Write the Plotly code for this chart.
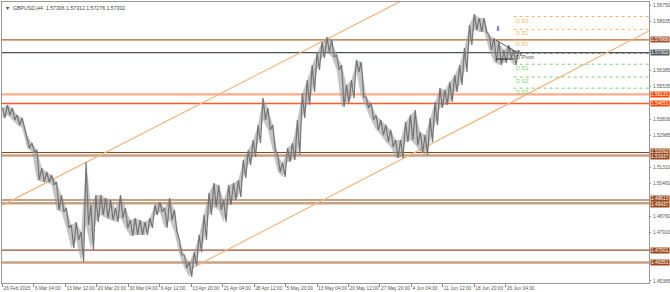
import plotly.graph_objects as go

# ---------------- data ----------------
bar_step = 5  # one sample every 5 H4 bars
hi = [1.54415, 1.54572, 1.54415, 1.54050, 1.53893, 1.53006, 1.52588, 1.52223, 1.51283, 1.51074,
      1.50918, 1.50552, 1.49874, 1.49195, 1.48308, 1.48464, 1.47942, 1.51596, 1.49352, 1.49874,
      1.49874, 1.49717, 1.49613, 1.49195, 1.49874, 1.49195, 1.48569, 1.48673, 1.48569, 1.48464,
      1.48673, 1.49352, 1.49508, 1.49195, 1.49717, 1.49091, 1.47525, 1.46742, 1.46376, 1.46898,
      1.47786, 1.48830, 1.49978, 1.50500, 1.50396, 1.49613, 1.50396, 1.50500, 1.50657, 1.51701,
      1.52223, 1.52745, 1.53528, 1.54937, 1.54415, 1.53528, 1.51962, 1.51544, 1.52327, 1.52588,
      1.53789, 1.55198, 1.55877, 1.56660, 1.57286, 1.57860, 1.58121, 1.57965, 1.57182, 1.56660,
      1.55616, 1.55877, 1.56921, 1.56816, 1.54989, 1.54676, 1.54050, 1.53789, 1.53528, 1.53267,
      1.52745, 1.52745, 1.53684, 1.54050, 1.54311, 1.53162, 1.53006, 1.53893, 1.54728, 1.55459,
      1.55355, 1.55772, 1.56138, 1.56660, 1.57547, 1.58748, 1.59322, 1.59113, 1.59113, 1.58226,
      1.58069, 1.57860, 1.57443, 1.57704, 1.57443, 1.57443]
lo = [1.53893, 1.54050, 1.53789, 1.53528, 1.53371, 1.52327, 1.52118, 1.50657, 1.50552, 1.50552,
      1.50396, 1.49091, 1.48986, 1.48151, 1.47107, 1.47525, 1.46376, 1.48308, 1.47003, 1.48464,
      1.48830, 1.48673, 1.48569, 1.48464, 1.48673, 1.48151, 1.47734, 1.47786, 1.47786, 1.47786,
      1.48151, 1.48830, 1.48986, 1.48151, 1.48569, 1.47942, 1.46742, 1.46063, 1.45593, 1.46168,
      1.46898, 1.47525, 1.48830, 1.49247, 1.49091, 1.48464, 1.49352, 1.49613, 1.49769, 1.50761,
      1.51440, 1.51857, 1.52588, 1.53789, 1.53267, 1.52223, 1.51074, 1.50813, 1.51596, 1.51701,
      1.51962, 1.53893, 1.54572, 1.55250, 1.56399, 1.57025, 1.57338, 1.57077, 1.56399, 1.54467,
      1.54676, 1.54937, 1.56294, 1.54989, 1.54415, 1.53789, 1.53267, 1.53006, 1.52640, 1.52379,
      1.51805, 1.51805, 1.52640, 1.52745, 1.52484, 1.52118, 1.51962, 1.52640, 1.53528, 1.54415,
      1.54572, 1.54728, 1.55250, 1.55616, 1.56294, 1.57704, 1.58487, 1.58382, 1.58382, 1.57443,
      1.56816, 1.56660, 1.56764, 1.57025, 1.56660, 1.57130]

x_labels = ["26 Feb 2015", "6 Mar 04:00", "13 Mar 12:00", "20 Mar 20:00", "30 Mar 04:00",
            "6 Apr 12:00", "13 Apr 20:00", "21 Apr 04:00", "28 Apr 12:00", "5 May 20:00",
            "13 May 04:00", "20 May 12:00", "27 May 20:00", "4 Jun 04:00", "11 Jun 12:00",
            "18 Jun 20:00", "26 Jun 04:00"]
bars_per_label = 32

y_ticks = [1.59750, 1.58935, 1.56385, 1.55535, 1.53836, 1.52985, 1.51310, 1.50460,
           1.48760, 1.47910, 1.45385]

levels = [1.57968, 1.55131, 1.54651, 1.52092, 1.51937, 1.49613, 1.49437, 1.47001, 1.46351]
level_colors = ["#b0622c", "#ffab8a", "#ff5a24", "#8b4513", "#c9a080", "#8b4513", "#c9a080",
                "#a0522d", "#c9a080"]
level_widths = [1.2, 2.2, 1.5, 1.2, 2.5, 1.2, 2.5, 1.2, 2.5]
box_colors = ["#a0522d", "#ff4500", "#ff4500", "#9a4a1c", "#9a4a1c", "#9a4a1c", "#9a4a1c",
              "#9a4a1c", "#9a4a1c"]
box_yshift = [0, 0, 0, 1.5, -1.5, 1.5, -1.5, 0, 0]

current_price = 1.57302
title_text = "▼  GBPUSD,H4  1.57306 1.57312 1.57276 1.57302"

pivot_names = ["D R3", "D R2", "D R1", "D Pivot", "D S1", "D S2", "D S3"]
pivot_vals = [1.5919, 1.5852, 1.5795, 1.5728, 1.5670, 1.5603, 1.5545]
pivot_colors = ["#f7b463", "#f7b463", "#f7b463", "#555555", "#77d36e", "#77d36e", "#77d36e"]
pivot_start_bar = 520

upper_trend_bars = [0, 420]
upper_trend_prices = [1.49346, 1.60379]
lower_trend_bars = [192, 658]
lower_trend_prices = [1.46040, 1.58450]

short_trend_bars = [502, 524]
short_trend_prices = [1.57965, 1.57286]
short_pivot_bars = [502, 520]
short_pivot_price = 1.5697

arrow_bar, arrow_price = 504, 1.5852

x_range = [-0.5, 657.7]
y_range = [1.45280, 1.59948]

# ---------------- figure ----------------
FONT = "Liberation Sans, Arial"
TICK_SIZE = 4.8

# zig-zag path through each sample's high and low, mimicking dense H4 bars
zx, zy = [], []
for i, (h, l) in enumerate(zip(hi, lo)):
    zx += [i * bar_step, i * bar_step + bar_step / 2]
    zy += [h, l]
xs = [i * bar_step for i in range(len(hi))]

fig = go.Figure()

# horizontal levels
for v, c, w in zip(levels, level_colors, level_widths):
    fig.add_shape(type="line", xref="paper", x0=0, x1=1, yref="y", y0=v, y1=v,
                  line=dict(color=c, width=w), layer="below")
fig.add_shape(type="line", xref="paper", x0=0, x1=1, yref="y", y0=current_price, y1=current_price,
              line=dict(color="#4a4f55", width=1.2), layer="below")

# pivot levels
for name, v, c in zip(pivot_names, pivot_vals, pivot_colors):
    fig.add_trace(go.Scatter(x=[pivot_start_bar, x_range[1]], y=[v, v], mode="lines",
                             line=dict(color=c, width=1, dash="dot"), hoverinfo="skip",
                             showlegend=False))
    fig.add_annotation(x=pivot_start_bar, y=v, xref="x", yref="y", text=name, showarrow=False,
                       xanchor="left", yanchor="middle", yshift=-4,
                       font=dict(family=FONT, size=5.5, color=c))

# trend lines
fig.add_trace(go.Scatter(x=upper_trend_bars, y=upper_trend_prices, mode="lines",
                         line=dict(color="#f2b47e", width=1.2), hoverinfo="skip", showlegend=False))
fig.add_trace(go.Scatter(x=lower_trend_bars, y=lower_trend_prices, mode="lines",
                         line=dict(color="#f2b47e", width=1.2), hoverinfo="skip", showlegend=False))

# price bars: light range band + zig-zag strokes
fig.add_trace(go.Scatter(x=xs, y=lo, mode="lines", line=dict(color="rgba(0,0,0,0)", width=0),
                         hoverinfo="skip", showlegend=False))
fig.add_trace(go.Scatter(x=xs, y=hi, mode="lines", line=dict(color="rgba(0,0,0,0)", width=0),
                         fill="tonexty", fillcolor="rgba(150,150,150,0.55)", hoverinfo="skip",
                         showlegend=False))
fig.add_trace(go.Scatter(x=zx, y=zy, mode="lines", line=dict(color="#747474", width=1.2),
                         hoverinfo="skip", showlegend=False))

# small drawn lines near the end
fig.add_trace(go.Scatter(x=short_trend_bars, y=short_trend_prices, mode="lines",
                         line=dict(color="#333333", width=0.8), hoverinfo="skip", showlegend=False))
fig.add_trace(go.Scatter(x=short_pivot_bars, y=[short_pivot_price] * 2, mode="lines",
                         line=dict(color="#222222", width=1), hoverinfo="skip", showlegend=False))

fig.add_annotation(x=arrow_bar, y=arrow_price, xref="x", yref="y", text="⬇", showarrow=False,
                   font=dict(family="DejaVu Sans", size=7, color="#7466ee"))

# price boxes on the right
for v, c, ys in zip(levels + [current_price], box_colors + ["#4f5861"], box_yshift + [0]):
    fig.add_annotation(x=1, xref="paper", y=v, yref="y", text=f"{v:.5f}", showarrow=False,
                       xanchor="left", yanchor="middle", xshift=0.5, yshift=ys,
                       bgcolor=c, borderpad=0,
                       font=dict(family=FONT, size=TICK_SIZE, color="white"))

fig.add_annotation(x=0, y=1, xref="paper", yref="paper", text=title_text, showarrow=False,
                   xanchor="left", yanchor="top", xshift=1, yshift=-1,
                   font=dict(family=FONT, size=5.2, color="#444444"))

fig.update_layout(
    width=670, height=292,
    margin=dict(l=2, r=21, t=2, b=9, autoexpand=False),
    paper_bgcolor="white", plot_bgcolor="white",
    showlegend=False,
    xaxis=dict(range=x_range, tickvals=[i * bars_per_label for i in range(len(x_labels))],
               ticktext=x_labels, ticks="outside", ticklen=3, tickcolor="#888888",
               ticklabelposition="outside right", tickangle=0, automargin=False,
               tickfont=dict(family=FONT, size=TICK_SIZE, color="#555555"),
               showgrid=False, zeroline=False, showline=True, linecolor="#999999",
               linewidth=1, mirror=True),
    yaxis=dict(range=y_range, side="right", tickvals=y_ticks, automargin=False,
               ticktext=[f"{v:.5f}" for v in y_ticks], ticks="outside", ticklen=1,
               ticklabelstandoff=1,
               tickcolor="#888888", tickfont=dict(family=FONT, size=TICK_SIZE, color="#555555"),
               showgrid=False, zeroline=False, showline=True, linecolor="#999999",
               linewidth=1, mirror=True),
)

fig.write_html("out.html")
